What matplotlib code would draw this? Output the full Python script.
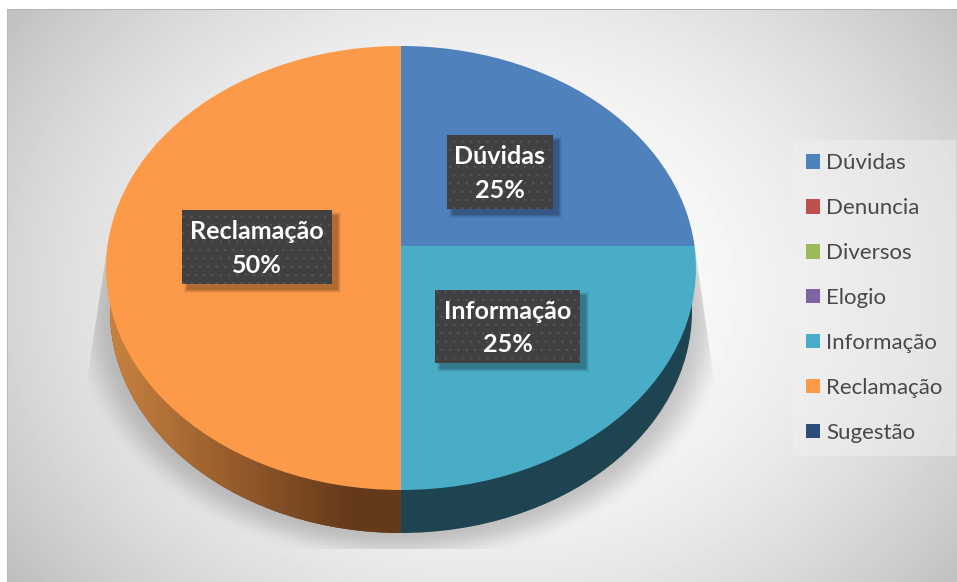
import numpy as np
import matplotlib
matplotlib.use("Agg")
import matplotlib.pyplot as plt
from matplotlib.patches import Patch, Rectangle
from matplotlib.transforms import Transform, Affine2D
from matplotlib.colors import LinearSegmentedColormap

categories = ["Dúvidas", "Denuncia", "Diversos", "Elogio", "Informação", "Reclamação", "Sugestão"]
values = [25, 0, 0, 0, 25, 50, 0]
colors = ["#4f81bd", "#c0504d", "#9bbb59", "#8064a2", "#4aadc8", "#fc9a4a", "#2c4d75"]
wall_colors = ["#2a4666", "#000000", "#000000", "#000000", "#1d4450", "#653a1a", "#000000"]
label_cats = ["Dúvidas", "Informação", "Reclamação"]
label_texts = ["25%", "25%", "50%"]
label_boxes = [(447, 135, 106, 74), (435, 290, 145, 73), (182, 210, 150, 74)]

W, H = 957, 582
fig = plt.figure(figsize=(W / 100, H / 100), dpi=100, facecolor="white")
ax = fig.add_axes([0, 0, 1, 1])


class Persp(Transform):
    """Unit circle to the tilted top face of the pie, in pixels."""
    input_dims = output_dims = 2
    has_inverted = False
    c = 22 / 222

    def transform_non_affine(self, v):
        v = np.asarray(v, float)
        d = 1 + self.c * v[:, 1]
        return np.column_stack([401 + 293.5 * v[:, 0] / d, 268 - (222 * v[:, 1] + 22) / d])


# background and cast shadow
yy, xx = np.mgrid[0:H, 0:W] + 0.5
bg = 1 - 0.16 * ((xx - 490) / 475) ** 2 - 0.09 * ((yy - 290) / 290) ** 2
r = np.hypot((xx - 401) / 332, (yy - 318) / 248)
fade = np.clip((1.0 - r) / 0.14, 0, 1)
fade = fade * fade * (3 - 2 * fade)
left = 107 - 22 * (yy - 245) / 145
right = 695 + 21 * (yy - 245) / 145
mask = np.clip(xx - left, 0, 1) * np.clip(right - xx, 0, 1) * (yy > 245) * (yy < 549)
bg = bg * (1 - 0.2 * fade * mask)
bg[:9, :] = 1
bg[:, :7] = 1
bg[9:10, 7:] = 0.70
bg[9:, 7:8] = 0.72
ax.imshow(bg, cmap="gray", vmin=0, vmax=1, extent=(0, W, H, 0), zorder=0, aspect="auto")

# pie wall: a second pie, lower and slightly narrower
wall, _ = ax.pie(values, colors=wall_colors, startangle=90, counterclock=False,
                 wedgeprops=dict(linewidth=0, zorder=1))
wall_tf = Affine2D().scale(291, -222).translate(401, 311)
for w in wall:
    w.set_transform(wall_tf + ax.transData)
cmap = LinearSegmentedColormap.from_list("wall", [(0, "#c8823f"), (0.62, "#8c5428"), (1, "#653a1a")])
grad = np.clip((np.arange(107, 402) - 108) / (350 - 108), 0, 1)[None, :]
im = ax.imshow(grad, cmap=cmap, vmin=0, vmax=1, extent=(107, 402, 540, 290), zorder=1.5, aspect="auto")
im.set_clip_path(wall[categories.index("Reclamação")])

# top face
top, _ = ax.pie(values, colors=colors, startangle=90, counterclock=False,
                wedgeprops=dict(linewidth=0, zorder=2))
tf = Persp()
for w in top:
    w.set_transform(tf + ax.transData)

ax.set_xlim(0, W)
ax.set_ylim(H, 0)
ax.set_aspect("auto")
ax.set_axis_off()

# data labels
plt.rcParams["hatch.linewidth"] = 0.5
for cat, pct, (x, y, bw, bh) in zip(label_cats, label_texts, label_boxes):
    for k, a in zip([7, 5, 3, 1], [0.05, 0.07, 0.09, 0.12]):
        ax.add_patch(Rectangle((x + 5 - k / 2, y + 5 - k / 2), bw + k, bh + k, fc="black", ec="none", alpha=a, zorder=3))
    ax.add_patch(Rectangle((x, y), bw, bh, fc="#404040", ec="none", zorder=4))
    ax.add_patch(Rectangle((x, y), bw, bh, fc="none", ec="#565656", lw=0, hatch="..", zorder=4.1))
    ax.text(x + bw / 2, y + bh / 2 + 1.5, f"{cat}\n{pct}", color="white", fontsize=18.1, fontweight="bold",
            family="Lato", ha="center", va="center", linespacing=1.56, zorder=5)

# legend
handles = [Patch(fc=c, ec="none", label=n) for c, n in zip(colors, categories)]
leg = ax.legend(handles=handles, loc="upper left", bbox_to_anchor=(793, 140), bbox_transform=ax.transData,
                borderaxespad=0, labelspacing=1.12, handlelength=0.63, handleheight=0.63,
                handletextpad=0.27, borderpad=0.6, fancybox=False, framealpha=0.45,
                facecolor="#f2f2f2", edgecolor="none", labelcolor="#484848", prop=dict(family="Lato", size=16))
leg.set_zorder(6)

fig.savefig("out.png", dpi=100)
